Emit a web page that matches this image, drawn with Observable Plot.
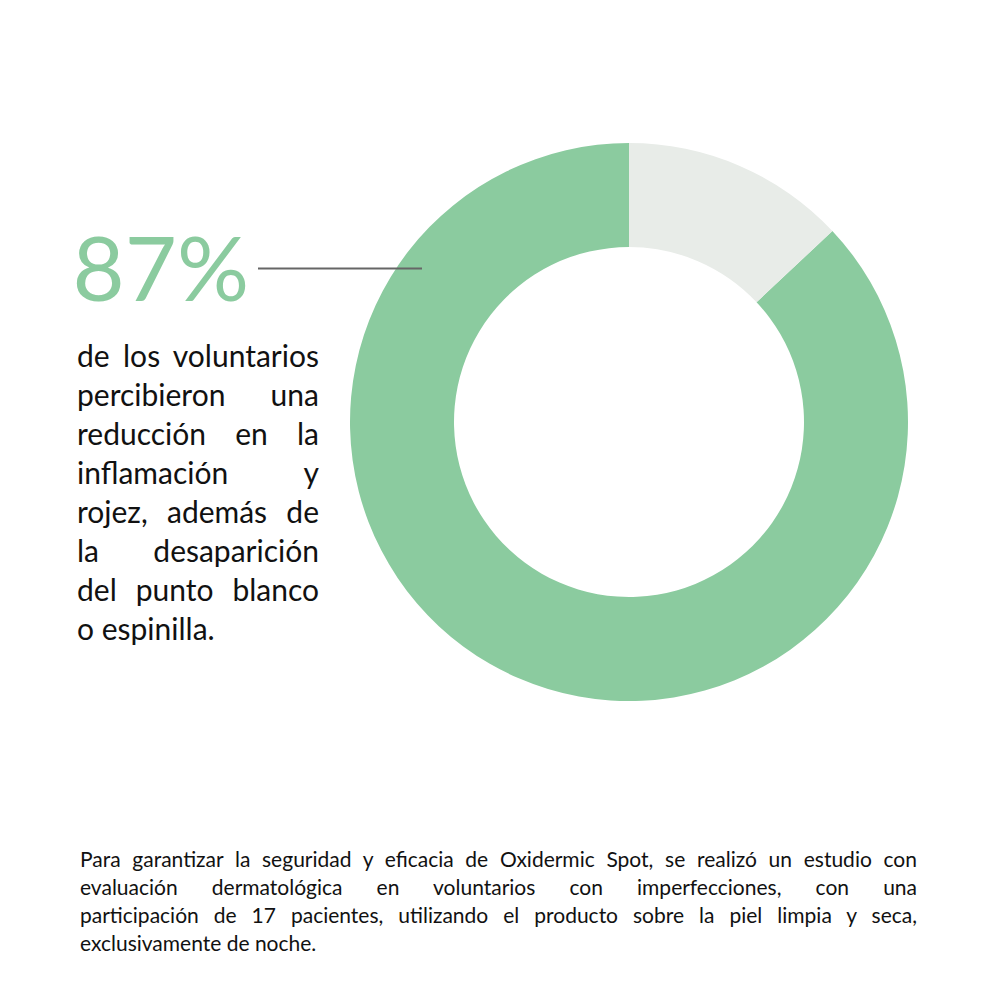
<!DOCTYPE html>
<html>
<head>
<meta charset="utf-8">
<script src="https://cdn.jsdelivr.net/npm/d3@7"></script>
<script src="https://cdn.jsdelivr.net/npm/@observablehq/plot@0.6"></script>
<style>
  html, body { margin: 0; padding: 0; background: #fff; }
  #wrap { position: relative; width: 1000px; height: 1000px; overflow: hidden; background: #fff; }
  #chart { position: absolute; left: 0; top: 0; }
  .line { position: absolute; white-space: nowrap; color: #111; font-family: Lato, "Open Sans", sans-serif; }
  .line .inner { display: block; transform-origin: 0 0; text-align: justify; text-align-last: justify; white-space: normal; }
  .line.last .inner { text-align-last: left; }
</style>
</head>
<body>
<div id="wrap">
  <div id="chart"></div>
</div>
<script>
// ---- data ----
const categories = ["Percibieron reducción", "No percibieron"];
const values = [87, 13];
const colors = ["#8bcb9f", "#e8ece8"];
const headline = ["87%"];
const bodyLines = [
  "de los voluntarios",
  "percibieron una",
  "reducción en la",
  "inflamación y",
  "rojez, además de",
  "la desaparición",
  "del punto blanco",
  "o espinilla."
];
const footerLines = [
  "Para garantizar la seguridad y eficacia de Oxidermic Spot, se realizó un estudio con",
  "evaluación dermatológica en voluntarios con imperfecciones, con una",
  "participación de  17 pacientes, utilizando el producto sobre la piel limpia y seca,",
  "exclusivamente de noche."
];

const slices = categories.map((c, i) => ({category: c, value: values[i]}));
const total = d3.sum(values);
const offset = 2 * Math.PI * values[1] / total; // grey slice sits clockwise from 12 o'clock
const pie = d3.pie().sort(null).value(d => d.value)
  .startAngle(offset).endAngle(offset + 2 * Math.PI)(slices);

// donut mark rendered with Plot scales
function donut(index, scales) {
  const sx = scales.x || (v => v), sy = scales.y || (v => v);
  const cx = sx(629), cy = sy(422);
  const outer = sx(629 + 279) - cx, inner = sx(629 + 175) - cx;
  const arc = d3.arc().innerRadius(inner).outerRadius(outer);
  const g = d3.create("svg:g").attr("transform", `translate(${cx},${cy})`);
  g.selectAll("path").data(pie).join("path")
    .attr("d", arc)
    .attr("fill", d => scales.color ? scales.color(d.data.category) : colors[d.index]);
  return g.node();
}

const plot = Plot.plot({
  width: 1000,
  height: 1000,
  margin: 0,
  x: {domain: [0, 1000], range: [0, 1000], axis: null},
  y: {domain: [0, 1000], range: [0, 1000], axis: null},
  color: {domain: categories, range: colors},
  style: {background: "transparent"},
  marks: [
    donut,
    Plot.ruleY([268], {x1: 258, x2: 422, stroke: "#666", strokeWidth: 2}),
    Plot.text(headline, {
      x: 72, y: 272, text: d => d, textAnchor: "start", lineAnchor: "middle",
      fill: colors[0], fontSize: 90, fontWeight: 400,
      fontFamily: "Lato, 'Open Sans', sans-serif"
    })
  ]
});
document.getElementById("chart").appendChild(plot);

// justified text lines
const wrap = document.getElementById("wrap");
function addLines(lines, left, width, top, pitch, fontSize, lineHeight) {
  lines.forEach((t, i) => {
    const div = document.createElement("div");
    div.className = "line" + (i === lines.length - 1 ? " last" : "");
    div.style.left = left + "px";
    div.style.top = (top + i * pitch) + "px";
    div.style.fontSize = fontSize + "px";
    div.style.lineHeight = lineHeight + "px";
    const inner = document.createElement("span");
    inner.className = "inner";
    const meas = document.createElement("span");
    meas.textContent = t;
    meas.style.whiteSpace = "pre";
    div.appendChild(meas);
    wrap.appendChild(div);
    const natural = meas.getBoundingClientRect().width;
    div.removeChild(meas);
    const isLast = i === lines.length - 1;
    let s = 1;
    if (natural > width) s = width / natural;
    inner.textContent = t;
    inner.style.width = (isLast ? Math.max(natural + 2, width) : width / s) + "px";
    inner.style.transform = `scaleX(${s})`;
    div.appendChild(inner);
  });
}
addLines(bodyLines, 77, 242, 336, 39, 30, 39);
addLines(footerLines, 80, 837, 845, 28, 21, 28);
</script>
</body>
</html>
